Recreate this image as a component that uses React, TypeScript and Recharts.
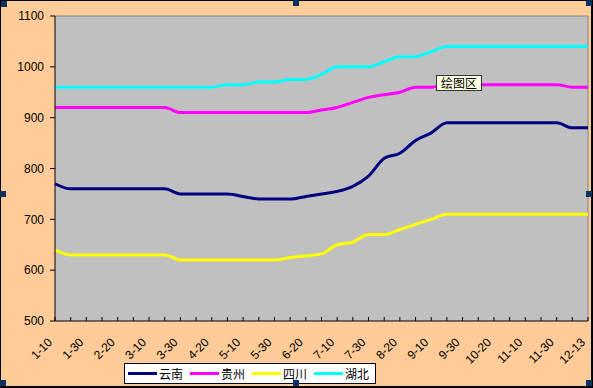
import React from "react";
import { LineChart, Line, XAxis, YAxis, CartesianGrid, ReferenceLine } from "recharts";

// dates every 10 days, last one is 12-13
const categories = [
  "1-10", "1-20", "1-30", "2-10", "2-20", "2-28", "3-10", "3-20", "3-30",
  "4-10", "4-20", "4-30", "5-10", "5-20", "5-30", "6-10", "6-20", "6-30",
  "7-10", "7-20", "7-30", "8-10", "8-20", "8-30", "9-10", "9-20", "9-30",
  "10-10", "10-20", "10-30", "11-10", "11-20", "11-30", "12-10", "12-13"
];

const yunnan = [
  770, 760, 760, 760, 760, 760, 760, 760, 750, 750, 750, 750, 745, 740, 740, 740, 745, 750,
  755, 765, 785, 820, 830, 855, 870, 890, 890, 890, 890, 890, 890, 890, 890, 880, 880
];
const guizhou = [
  920, 920, 920, 920, 920, 920, 920, 920, 910, 910, 910, 910, 910, 910, 910, 910, 910, 915,
  920, 930, 940, 945, 950, 960, 960, 965, 965, 965, 965, 965, 965, 965, 965, 960, 960
];
const sichuan = [
  640, 630, 630, 630, 630, 630, 630, 630, 620, 620, 620, 620, 620, 620, 620, 625, 628, 632,
  650, 655, 670, 670, 680, 690, 700, 710, 710, 710, 710, 710, 710, 710, 710, 710, 710
];
const hubei = [
  960, 960, 960, 960, 960, 960, 960, 960, 960, 960, 960, 965, 965, 970, 970, 975, 975, 985,
  1000, 1000, 1000, 1010, 1020, 1020, 1030, 1040, 1040, 1040, 1040, 1040, 1040, 1040, 1040, 1040, 1040
];

const yTicks = [500, 600, 700, 800, 900, 1000, 1100];

const SERIES = [
  { key: "yunnan", name: "云南", color: "#000080" },
  { key: "guizhou", name: "贵州", color: "#FF00FF" },
  { key: "sichuan", name: "四川", color: "#FFFF00" },
  { key: "hubei", name: "湖北", color: "#00FFFF" }
];

const data = categories.map((date, i) => ({
  date,
  yunnan: yunnan[i],
  guizhou: guizhou[i],
  sichuan: sichuan[i],
  hubei: hubei[i]
}));

const LATIN = "'Liberation Sans', Arial, sans-serif";
const CJK = "'Noto Sans CJK SC', 'Liberation Sans', sans-serif";

// small inward tick on every category, rotated label on every other one
const XTick = ({ x, y, index, payload }: any) => {
  const i = typeof index === "number" ? index : payload.index;
  const ax = x - 2;
  const ay = y + 22;
  return (
    <g>
      <line x1={x} y1={y} x2={x} y2={y - 4} stroke="#000" />
      {i % 2 === 0 && (
        <text
          x={ax}
          y={ay}
          textAnchor="end"
          transform={`rotate(-45 ${ax} ${ay})`}
          fontSize={12}
          fontFamily={LATIN}
          fill="#000"
        >
          {payload.value}
        </text>
      )}
    </g>
  );
};

const handles = [
  [1, 1], [293, 0], [586, 0],
  [0, 191], [586, 191],
  [0, 380], [293, 380], [586, 380]
];

export default function App() {
  return (
    <div style={{ position: "absolute", left: 0, top: 0, width: 593, height: 388, background: "#FFCC99", overflow: "hidden" }}>
      <LineChart
        width={593}
        height={388}
        data={data}
        margin={{ top: 16, right: 5, left: 15, bottom: 0 }}
      >
        <CartesianGrid fill="#C0C0C0" stroke="none" horizontal={false} vertical={false} />
        <XAxis
          dataKey="date"
          interval={0}
          height={67}
          tickSize={0}
          tickMargin={0}
          tickLine={false}
          axisLine={{ stroke: "#000" }}
          tick={<XTick />}
        />
        <YAxis
          domain={[500, 1100]}
          ticks={yTicks}
          width={40}
          tickSize={5}
          tickMargin={6}
          axisLine={{ stroke: "#000" }}
          tickLine={{ stroke: "#000" }}
          tick={{ fontSize: 12, fontFamily: LATIN, fill: "#000" }}
        />
        <ReferenceLine y={1100} stroke="#808080" />
        <ReferenceLine x="12-13" stroke="#808080" />
        {SERIES.map((s) => (
          <Line
            key={s.key}
            type="monotone"
            dataKey={s.key}
            name={s.name}
            stroke={s.color}
            strokeWidth={3}
            dot={false}
            activeDot={false}
            isAnimationActive={false}
          />
        ))}
      </LineChart>

      {/* legend */}
      <div
        style={{
          position: "absolute", left: 124, top: 363, width: 252, height: 21, boxSizing: "border-box",
          background: "#fff", border: "1px solid #000", display: "flex", alignItems: "center",
          paddingLeft: 3, fontFamily: CJK, fontSize: 12, color: "#000", whiteSpace: "nowrap"
        }}
      >
        {SERIES.map((s) => (
          <div key={s.key} style={{ display: "flex", alignItems: "center", flexShrink: 0, marginRight: 7 }}>
            <span style={{ display: "inline-block", width: 29, height: 3, background: s.color, marginRight: 2, flexShrink: 0 }} />
            <span style={{ lineHeight: "14px", width: 24, flexShrink: 0 }}>{s.name}</span>
          </div>
        ))}
      </div>

      {/* Excel hover tip */}
      <div
        style={{
          position: "absolute", left: 436, top: 75, width: 46, height: 16, boxSizing: "border-box",
          background: "#FFFFE1", border: "1px solid #333", fontFamily: CJK, fontSize: 12,
          lineHeight: "14px", textAlign: "center", color: "#000", whiteSpace: "nowrap"
        }}
      >
        绘图区
      </div>

      {/* chart frame and selection handles */}
      <div
        style={{
          position: "absolute", left: 0, top: 0, width: 593, height: 388, boxSizing: "border-box",
          borderTop: "1px solid #000", borderLeft: "1px solid #000",
          borderRight: "2px solid #000", borderBottom: "2px solid #000", pointerEvents: "none"
        }}
      />
      {handles.map(([hx, hy], i) => (
        <div key={i} style={{ position: "absolute", left: hx, top: hy, width: 6, height: 6, background: "#0C3060" }} />
      ))}
    </div>
  );
}
